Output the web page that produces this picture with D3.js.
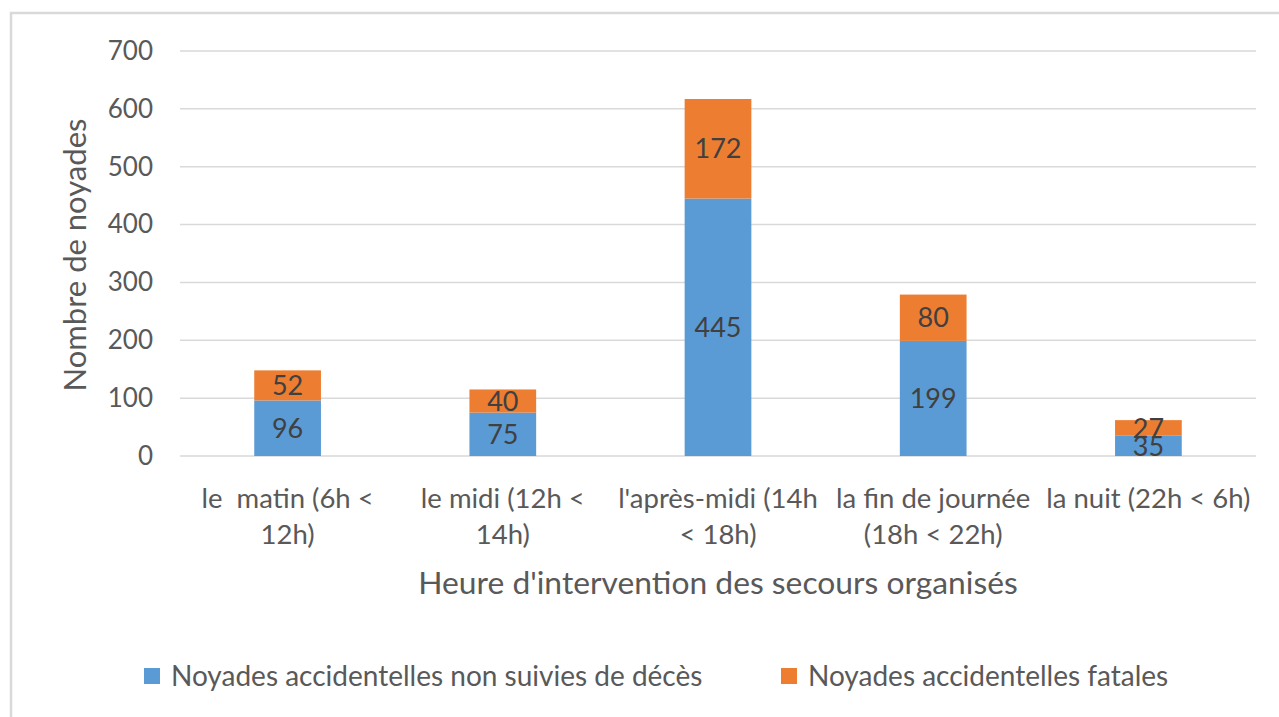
<!DOCTYPE html>
<html><head><meta charset="utf-8">
<script src="https://cdn.jsdelivr.net/npm/d3@7"></script>
<style>
html,body{margin:0;padding:0;background:#fff;}
svg{display:block;font-family:Lato,"Open Sans",sans-serif;}
</style></head>
<body><svg id="c" width="1279" height="717"></svg>
<script>
const categories = ["le  matin (6h < 12h)", "le midi (12h < 14h)", "l'après-midi (14h < 18h)", "la fin de journée (18h < 22h)", "la nuit (22h < 6h)"];
const categoryLines = [["le  matin (6h <", "12h)"], ["le midi (12h <", "14h)"], ["l'après-midi (14h", "< 18h)"], ["la fin de journée", "(18h < 22h)"], ["la nuit (22h < 6h)"]];
const nonFatal = [96, 75, 445, 199, 35];
const fatal = [52, 40, 172, 80, 27];
const seriesNames = ["Noyades accidentelles non suivies de décès", "Noyades accidentelles fatales"];
const seriesColors = ["#5B9BD5", "#ED7D31"];
const yTicks = [0, 100, 200, 300, 400, 500, 600, 700];
const xTitle = "Heure d'intervention des secours organisés";
const yTitle = "Nombre de noyades";

const svg = d3.select("#c");
svg.append("rect").attr("x", 11).attr("y", 13).attr("width", 1290).attr("height", 720)
  .attr("fill", "none").attr("stroke", "#d9d9d9").attr("stroke-width", 2.5);

const pL = 180, pR = 1256, pT = 51, pB = 456;
const x = d3.scaleBand().domain(categories).range([pL, pR]).paddingInner(0.69).paddingOuter(0.345);
const y = d3.scaleLinear().domain([0, 700]).range([pB, pT]);

svg.append("g").selectAll("line").data(yTicks).join("line")
  .attr("x1", pL).attr("x2", pR)
  .attr("y1", d => y(d)).attr("y2", d => y(d))
  .attr("stroke", "#d9d9d9").attr("stroke-width", 1.5);

const yAxis = d3.axisLeft(y).tickValues(yTicks).tickSize(0).tickPadding(0);
const yg = svg.append("g").attr("transform", `translate(${153},0)`).call(yAxis);
yg.select(".domain").remove();
yg.selectAll("text").attr("font-size", 26).attr("fill", "#595959").attr("font-family", "Lato");

const data = categories.map((c, i) => ({cat: c, a: nonFatal[i], b: fatal[i]}));
const stack = d3.stack().keys(["a", "b"])(data);

const groups = svg.append("g").selectAll("g").data(stack).join("g")
  .attr("fill", (d, i) => seriesColors[i]);
groups.selectAll("rect").data(d => d).join("rect")
  .attr("x", d => x(d.data.cat))
  .attr("width", x.bandwidth())
  .attr("y", d => y(d[1]))
  .attr("height", d => y(d[0]) - y(d[1]));

const lbl = svg.append("g");
stack.forEach((s) => {
  lbl.append("g").selectAll("text").data(s).join("text")
    .attr("x", d => x(d.data.cat) + x.bandwidth() / 2)
    .attr("y", d => (y(d[0]) + y(d[1])) / 2)
    .attr("dy", "0.36em")
    .attr("text-anchor", "middle")
    .attr("font-size", 27)
    .attr("fill", "#404040")
    .text(d => d[1] - d[0]);
});

const xl = svg.append("g");
categories.forEach((c, i) => {
  const cx = x(c) + x.bandwidth() / 2;
  const t = xl.append("text")
    .attr("x", cx)
    .attr("y", 508)
    .attr("text-anchor", "middle")
    .attr("font-size", 27.5)
    .attr("fill", "#595959")
    .style("white-space", "pre");
  categoryLines[i].forEach((ln, j) => {
    t.append("tspan").attr("x", cx).attr("dy", j === 0 ? 0 : 36).text(ln);
  });
});

svg.append("text").attr("x", (pL + pR) / 2).attr("y", 594)
  .attr("text-anchor", "middle").attr("font-size", 31.8).attr("fill", "#595959").text(xTitle);
svg.append("text").attr("transform", `translate(86,255) rotate(-90)`)
  .attr("text-anchor", "middle").attr("font-size", 31).attr("fill", "#595959").text(yTitle);

const legendX = [144, 781];
const lg = svg.append("g");
seriesNames.forEach((n, i) => {
  lg.append("rect").attr("x", legendX[i]).attr("y", 668).attr("width", 16).attr("height", 16).attr("fill", seriesColors[i]);
  lg.append("text").attr("x", legendX[i] + 27).attr("y", 676).attr("dy", "0.36em")
    .attr("font-size", 28).attr("fill", "#595959").text(n);
});
</script></body></html>
